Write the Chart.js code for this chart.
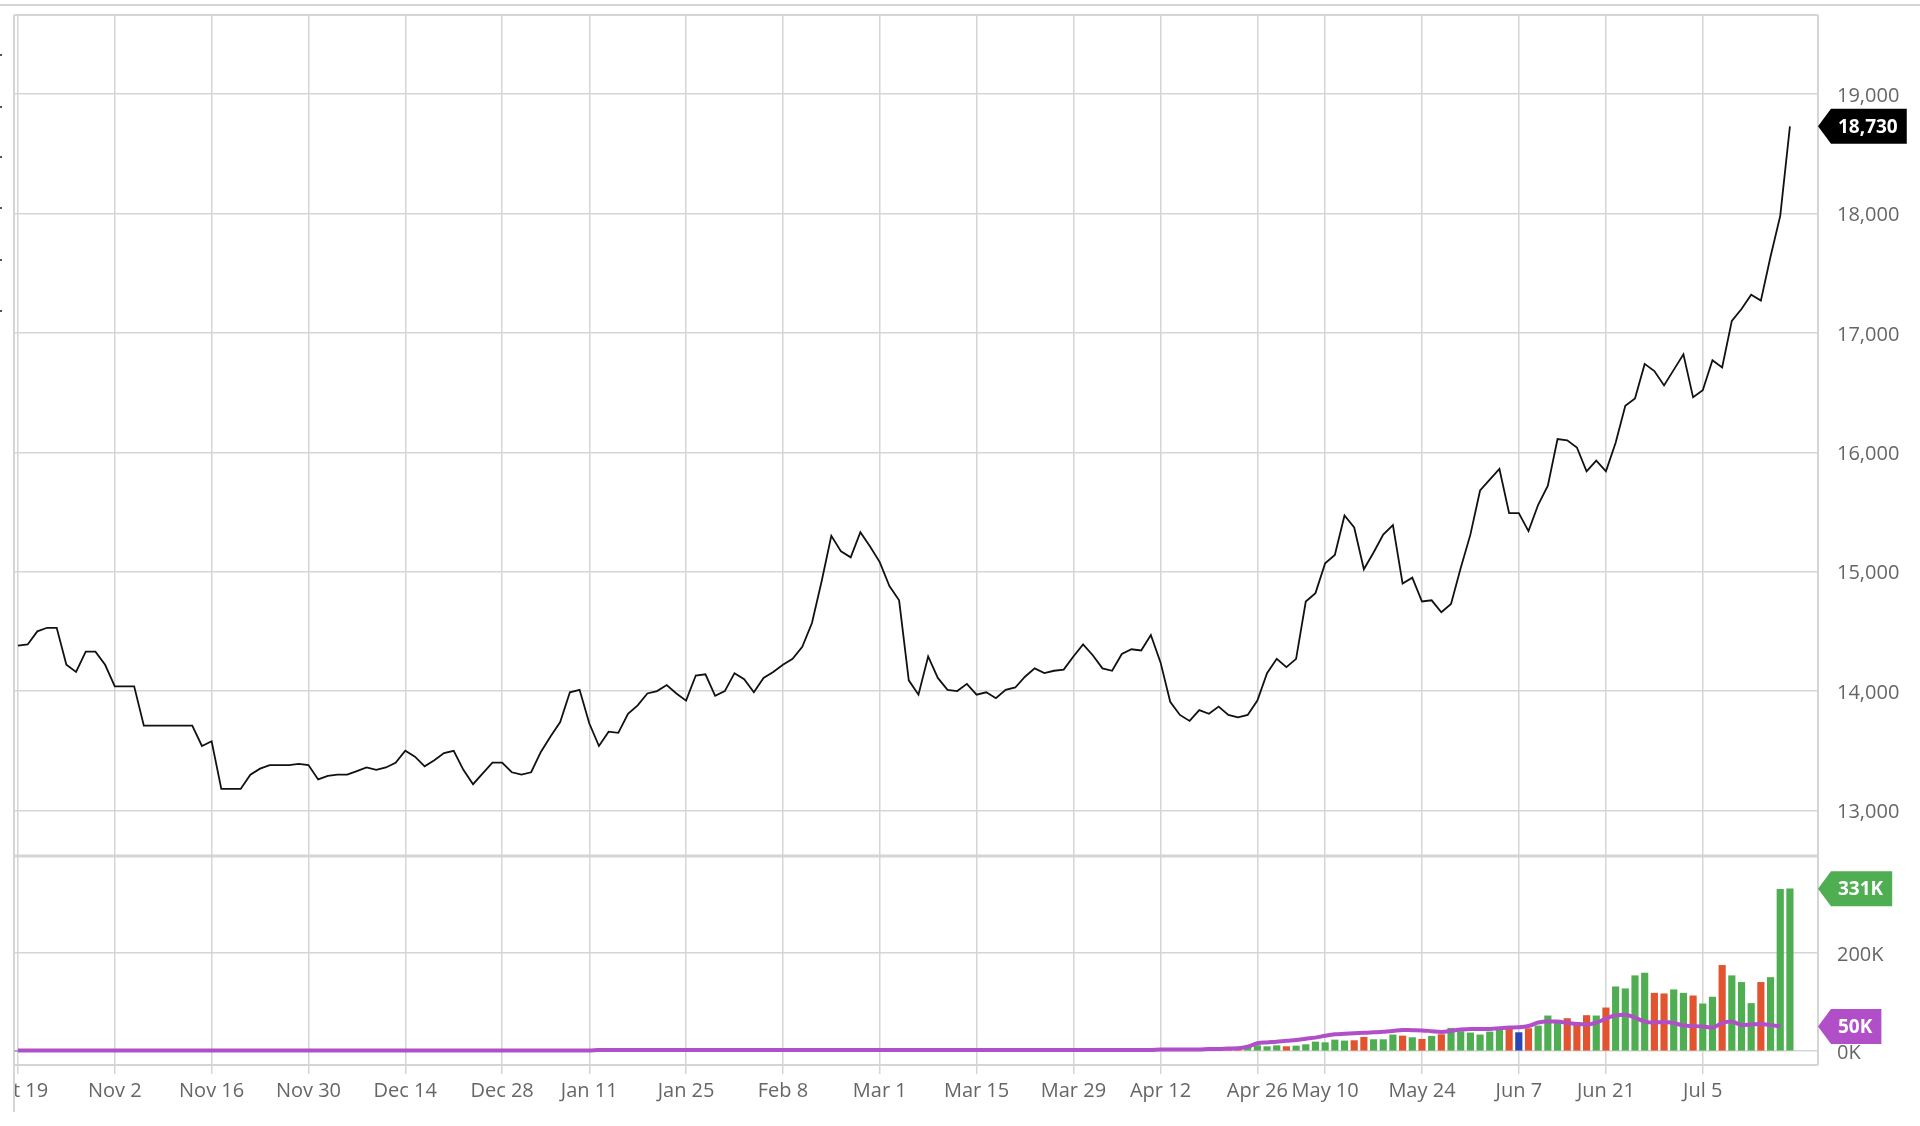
<!DOCTYPE html>
<html lang="en">
<head>
<meta charset="UTF-8" />
<title>Price and volume</title>
<script src="https://cdn.jsdelivr.net/npm/chart.js"></script>
<style>
  * { margin: 0; padding: 0; box-sizing: border-box; }
  body { background: #fff; width: 1920px; height: 1126px; overflow: hidden; }
  #chart { display: block; }
</style>
</head>
<body>
<canvas id="chart" width="1920" height="1126"></canvas>
<script>
// one entry per trading day, Oct 19 .. Jul 16
const tickIndex = [0, 10, 20, 30, 40, 50, 59, 69, 79, 89, 99, 109, 118, 128, 135, 145, 155, 164, 174];
const tickLabels = ['Oct 19', 'Nov 2', 'Nov 16', 'Nov 30', 'Dec 14', 'Dec 28', 'Jan 11', 'Jan 25', 'Feb 8', 'Mar 1',
  'Mar 15', 'Mar 29', 'Apr 12', 'Apr 26', 'May 10', 'May 24', 'Jun 7', 'Jun 21', 'Jul 5'];

const close = [
  14380, 14390, 14500, 14530, 14530, 14220, 14160, 14330, 14330, 14220,
  14040, 14040, 14040, 13710, 13710, 13710, 13710, 13710, 13710, 13540,
  13580, 13180, 13180, 13180, 13300, 13350, 13380, 13380, 13380, 13390,
  13380, 13260, 13290, 13300, 13300, 13330, 13360, 13340, 13360, 13400,
  13500, 13450, 13370, 13420, 13480, 13500, 13340, 13220, 13310, 13400,
  13400, 13320, 13300, 13320, 13490, 13620, 13740, 13990, 14010, 13730,
  13540, 13660, 13650, 13810, 13880, 13980, 14000, 14050, 13980, 13920,
  14130, 14140, 13960, 14000, 14150, 14100, 13990, 14110, 14160, 14220,
  14270, 14370, 14570, 14920, 15300, 15170, 15120, 15330, 15210, 15080,
  14880, 14760, 14090, 13970, 14290, 14110, 14010, 14000, 14060, 13970,
  13990, 13940, 14010, 14030, 14120, 14190, 14150, 14170, 14180, 14290,
  14390, 14300, 14190, 14170, 14310, 14350, 14340, 14470, 14240, 13910,
  13800, 13750, 13840, 13810, 13870, 13800, 13780, 13800, 13920, 14150,
  14270, 14200, 14270, 14750, 14820, 15070, 15140, 15470, 15370, 15020,
  15160, 15310, 15390, 14900, 14950, 14750, 14760, 14660, 14730, 15030,
  15310, 15680, 15770, 15860, 15490, 15490, 15340, 15560, 15720, 16110,
  16100, 16040, 15840, 15930, 15840, 16080, 16390, 16450, 16740, 16680,
  16560, 16690, 16820, 16460, 16520, 16770, 16710, 17100, 17200, 17320,
  17270, 17640, 17980, 18730
];

// volume in thousands
const volume = [
  0, 0, 0, 0, 0, 0, 0, 0, 0, 0, 0, 0, 0, 0, 0, 0, 0, 0, 0, 0,
  0, 0, 0, 0, 0, 0, 0, 0, 0, 0, 0, 0, 0, 0, 0, 0, 0, 0, 0, 0,
  0, 0, 0, 0, 0, 0, 0, 0, 0, 0, 0, 0, 0, 0, 0, 0, 0, 0, 0, 0,
  0, 0, 0, 0, 0, 0, 0, 0, 0, 0, 0, 0, 0, 0, 0, 0, 0, 0, 0, 0,
  0, 0, 0, 0, 0, 0, 0, 0, 0, 0, 0, 0, 0, 0, 0, 0, 0, 0, 0, 0,
  0, 0, 0, 0, 0, 0, 0, 0, 0, 0, 0, 0, 0, 0, 0, 0, 0, 0,
  2, 2, 2, 2, 2, 2, 2, 3, 3.4, 7.5,
  10.9, 8.9, 10.9, 8.9, 10.2, 13, 18.4, 17, 22.5, 20.5,
  21.2, 28, 23.2, 23.2, 32.8, 30.7, 27.3, 23.9, 30, 33.4,
  46.4, 39.6, 36.9, 32.8, 38.9, 42.3, 44.4, 37.5, 45.7, 51.2,
  71.7, 60, 66.2, 58, 72.4, 71.7, 88, 131, 127, 153.6,
  159, 118, 116.7, 125, 118, 112.6, 96.2, 110, 174.7, 153.6,
  140, 97, 140, 150, 330, 331
];

// volume average line, thousands (ends one day early)
const volAvg = [
  1, 1, 1, 1, 1, 1, 1, 1, 1, 1, 1, 1, 1, 1, 1, 1, 1, 1, 1, 1,
  1, 1, 1, 1, 1, 1, 1, 1, 1, 1, 1, 1, 1, 1, 1, 1, 1, 1, 1, 1,
  1, 1, 1, 1, 1, 1, 1, 1, 1, 1, 1, 1, 1, 1, 1, 1, 1, 1, 1, 1,
  2, 2, 2, 2, 2, 2, 2, 2, 2, 2, 2, 2, 2, 2, 2, 2, 2, 2, 2, 2,
  2, 2, 2, 2, 2, 2, 2, 2, 2, 2, 2, 2, 2, 2, 2, 2, 2, 2, 2, 2,
  2, 2, 2, 2, 2, 2, 2, 2, 2, 2, 2, 2, 2, 2, 2, 2, 2, 2,
  3, 3, 3, 3, 3, 4, 4,
  5, 5.5, 9, 15.7, 17.5, 19, 21, 22.5, 25, 27.3, 31, 34, 35, 36, 37,
  38, 39.5, 41, 43, 42.5, 42, 40.5, 39, 41, 43.7, 45, 45, 45, 46.5, 48,
  48.5, 51, 58, 60, 60, 57, 55, 54, 58, 66, 73, 74, 68, 60, 58, 59, 57, 52, 51, 50,
  48, 57, 60, 53, 54, 55, 53, 50
];

const GRID = '#d5d5d5';
const UP = '#4fad52', DOWN = '#e2532f', FLAT = '#2747b5', AVG = '#b04fc8';

const barColors = volume.map((v, i) => {
  if (i === 0 || close[i] === close[i - 1]) return FLAT;
  return close[i] > close[i - 1] ? UP : DOWN;
});

Chart.defaults.font.family = '"Open Sans", sans-serif';
Chart.defaults.font.size = 20;
Chart.defaults.color = '#666';

function badge(ctx, x, y, text, color) {
  ctx.font = 'bold 19px "Open Sans"';
  const w = ctx.measureText(text).width;
  const h = 35, tip = 13;
  ctx.fillStyle = color;
  ctx.beginPath();
  ctx.moveTo(x, y);
  ctx.lineTo(x + tip, y - h / 2);
  ctx.lineTo(x + 20 + w + 9, y - h / 2);
  ctx.lineTo(x + 20 + w + 9, y + h / 2);
  ctx.lineTo(x + tip, y + h / 2);
  ctx.closePath();
  ctx.fill();
  ctx.fillStyle = '#fff';
  ctx.textAlign = 'left';
  ctx.textBaseline = 'middle';
  ctx.fillText(text, x + 20, y + 1);
}

const frame = {
  id: 'frame',
  beforeDatasetsDraw(chart) {
    const { ctx, chartArea: a, scales } = chart;
    const sep = scales.y.bottom;
    ctx.save();
    // the panel clips the first date label at its left edge
    ctx.fillStyle = '#fff';
    ctx.fillRect(0, a.bottom + 2, a.left + 1, chart.height - a.bottom);
    ctx.strokeStyle = GRID;
    ctx.lineWidth = 2;
    ctx.beginPath();
    ctx.moveTo(0, 5); ctx.lineTo(chart.width, 5);
    ctx.moveTo(a.left, a.top); ctx.lineTo(a.right, a.top);
    ctx.moveTo(a.left, a.top); ctx.lineTo(a.left, 1112);
    ctx.moveTo(a.right, a.top); ctx.lineTo(a.right, a.bottom);
    ctx.moveTo(a.left, a.bottom); ctx.lineTo(a.right, a.bottom);
    ctx.stroke();
    ctx.lineWidth = 3;
    ctx.beginPath();
    ctx.moveTo(a.left, sep + 1); ctx.lineTo(a.right, sep + 1);
    ctx.stroke();
    // cut-off ticks of the neighbouring panel
    ctx.fillStyle = '#555';
    [55, 107, 157, 208, 260, 311].forEach(y => ctx.fillRect(0, y - 1, 2, 2));
    ctx.restore();
  },
  afterDraw(chart) {
    const { ctx, chartArea: a, scales } = chart;
    const last = close.length - 1;
    ctx.save();
    badge(ctx, a.right, scales.y.getPixelForValue(close[last]), close[last].toLocaleString('en-US'), '#000');
    badge(ctx, a.right, scales.y2.getPixelForValue(volume[last]), Math.round(volume[last]) + 'K', UP);
    const la = volAvg.length - 1;
    badge(ctx, a.right, scales.y2.getPixelForValue(volAvg[la]), Math.round(volAvg[la]) + 'K', AVG);
    ctx.restore();
  }
};

function noPad(scale) {
  scale.paddingLeft = 0; scale.paddingRight = 0;
  scale.paddingTop = 0; scale.paddingBottom = 0;
}

new Chart(document.getElementById('chart'), {
  type: 'bar',
  data: {
    datasets: [
      {
        type: 'line',
        data: close.map((v, i) => ({ x: i, y: v })),
        yAxisID: 'y',
        borderColor: '#111',
        borderWidth: 1.8,
        pointRadius: 0,
        tension: 0,
        order: 0
      },
      {
        type: 'line',
        data: volAvg.map((v, i) => ({ x: i, y: v })),
        yAxisID: 'y2',
        borderColor: AVG,
        borderWidth: 4,
        pointRadius: 0,
        cubicInterpolationMode: 'monotone',
        order: 1
      },
      {
        type: 'bar',
        data: volume.map((v, i) => ({ x: i, y: v })),
        yAxisID: 'y2',
        backgroundColor: barColors,
        barThickness: 6.5,
        order: 2
      }
    ]
  },
  options: {
    responsive: false,
    animation: false,
    devicePixelRatio: 1,
    layout: { padding: { left: 14, top: 15, right: 0, bottom: 0 } },
    plugins: { legend: { display: false }, tooltip: { enabled: false } },
    scales: {
      x: {
        type: 'linear',
        position: 'bottom',
        offset: false,
        min: -0.41,
        max: 185.9,
        border: { display: false },
        grid: { offset: false, color: GRID, lineWidth: 1.5, drawTicks: true, tickLength: 9 },
        ticks: {
          autoSkip: false,
          maxRotation: 0,
          padding: 5,
          callback: v => tickLabels[tickIndex.indexOf(v)]
        },
        afterBuildTicks: s => { s.ticks = tickIndex.map(v => ({ value: v })); },
        afterFit: s => { s.height = 61; noPad(s); }
      },
      y: {
        position: 'right',
        stack: 'panes',
        stackWeight: 840,
        min: 12627,
        max: 19662,
        border: { display: false },
        grid: { color: GRID, lineWidth: 1.5, drawTicks: false },
        ticks: { padding: 19, labelOffset: 2, callback: v => v.toLocaleString('en-US') },
        afterBuildTicks: s => { s.ticks = [13000, 14000, 15000, 16000, 17000, 18000, 19000].map(v => ({ value: v })); },
        afterFit: s => { s.width = 102; noPad(s); }
      },
      y2: {
        position: 'right',
        stack: 'panes',
        stackWeight: 210,
        min: -28.6,
        max: 400,
        border: { display: false },
        grid: { color: GRID, lineWidth: 1.5, drawTicks: false },
        ticks: { padding: 19, labelOffset: 2, callback: v => v + 'K' },
        afterBuildTicks: s => { s.ticks = [0, 200].map(v => ({ value: v })); },
        afterFit: s => { s.width = 102; noPad(s); }
      }
    }
  },
  plugins: [frame]
});
</script>
</body>
</html>
